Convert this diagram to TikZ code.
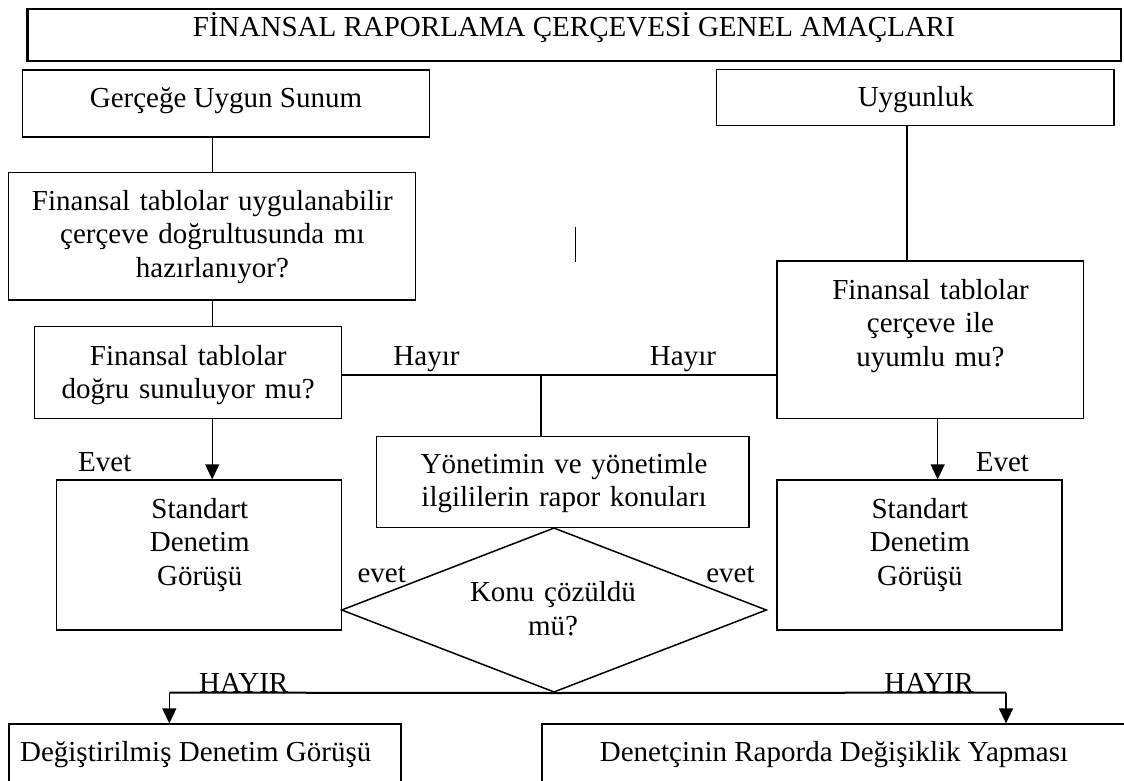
\documentclass[tikz,border=0pt]{standalone}
\usepackage{fontspec}
\setmainfont{Liberation Serif}
\usetikzlibrary{arrows.meta,shapes.geometric}

\begin{document}
\begin{tikzpicture}[x=1pt,y=-1pt,
  box/.style={draw,line width=1.3pt,rectangle,inner sep=0pt},
  txt/.style={font=\fontsize{29pt}{33.5pt}\selectfont,inner sep=0pt,anchor=base,align=center},
  link/.style={line width=1.3pt},
  arr/.style={line width=1.3pt,-{Triangle[length=15pt,width=14pt]}},
]
\useasboundingbox (0,0) rectangle (1124,781);
\clip (0,0) rectangle (1124,781);

% boxes
\node[box,line width=2.7pt,minimum width=1093.5pt,minimum height=52pt] (title) at (574.25,35) {};
\node[box,minimum width=406.7pt,minimum height=67pt] (ger) at (226.05,103.5) {};
\node[box,minimum width=397.2pt,minimum height=55.6pt] (uyg) at (915.4,97.5) {};
\node[box,minimum width=407.2pt,minimum height=127.7pt] (q1) at (212.2,236.15) {};
\node[box,minimum width=306.4pt,minimum height=91.6pt] (q2) at (188,372.5) {};
\node[box,minimum width=306.5pt,minimum height=157.3pt] (q3) at (930.25,339.65) {};
\node[box,minimum width=284.6pt,minimum height=150pt] (stdL) at (198.9,555) {};
\node[box,minimum width=285pt,minimum height=150pt] (stdR) at (919.5,555) {};
\node[box,minimum width=372.7pt,minimum height=91pt] (yon) at (562.65,482.2) {};
\node[draw,line width=1.5pt,diamond,inner sep=0pt,minimum width=425.2pt,minimum height=164.5pt] (dia) at (554,610) {};
\node[box,line width=1.8pt,minimum width=392.1pt,minimum height=95.7pt] (degis) at (204.65,772.15) {};
\node[box,line width=1.8pt,minimum width=598.2pt,minimum height=95.7pt] (denet) at (840.9,772.15) {};

% box texts
\node[txt] (titleT) at (574,37) {FİNANSAL RAPORLAMA ÇERÇEVESİ GENEL AMAÇLARI};
\node[txt] (gerT) at (226,108) {Gerçeğe Uygun Sunum};
\node[txt] (uygT) at (915.8,107) {Uygunluk};
\node[txt,text width=400pt] (q1T) at (212.4,210) {Finansal tablolar uygulanabilir\\çerçeve doğrultusunda mı\\hazırlanıyor?};
\node[txt,text width=300pt] (q2T) at (188.2,365) {Finansal tablolar\\doğru sunuluyor mu?};
\node[txt,text width=300pt] (q3T) at (930.5,299) {Finansal tablolar\\çerçeve ile\\uyumlu mu?};
\node[txt,text width=280pt] (stdLT) at (199.8,518.3) {Standart\\Denetim\\Görüşü};
\node[txt,text width=280pt] (stdRT) at (919.9,518.3) {Standart\\Denetim\\Görüşü};
\node[txt,text width=370pt] (yonT) at (564,473.3) {Yönetimin ve yönetimle\\ilgililerin rapor konuları};
\node[txt,text width=250pt] (diaT) at (553,601.7) {Konu çözüldü\\mü?};
\node[txt] (degT) at (195.7,761.7) {Değiştirilmiş Denetim Görüşü};
\node[txt] (denT) at (834,761.7) {Denetçinin Raporda Değişiklik Yapması};

% branch labels
\node[txt] (hayirL) at (426.5,365) {Hayır};
\node[txt] (hayirR) at (683,365) {Hayır};
\node[txt] (evetL) at (104.8,471.7) {Evet};
\node[txt] (evetR) at (1002.4,471.7) {Evet};
\node[txt] (evetl) at (381.7,582.7) {evet};
\node[txt] (evetr) at (730.5,582.7) {evet};
\node[txt] (hayirBL) at (243.7,692) {HAYIR};
\node[txt] (hayirBR) at (929,692) {HAYIR};

% connectors
\draw[link] (q1.north) -- (q1.north |- ger.south);
\draw[link] (q1.south) -- (q1.south |- q2.north);
\draw[arr] (q2.south -| q1.south) -- (stdL.north -| q1.south);

\coordinate (uygOut) at ([xshift=-8.4pt]uyg.south);
\draw[link] (uygOut) -- (uygOut |- q3.north);
\coordinate (q3Out) at ([xshift=7.4pt]q3.south);
\draw[arr] (q3Out) -- (q3Out |- stdR.north);

\coordinate (q2Out) at ([yshift=-2.5pt]q2.east);
\draw[link] (q2Out) -- (q2Out -| q3.west);
\coordinate (jn) at (541,375);
\draw[link] (jn) -- (jn |- yon.north);

% short stroke in the middle
\coordinate (mA) at (575.6,227);
\coordinate (mB) at (575.6,262);
\draw[link] (mA) -- (mB);

% HAYIR branches
\coordinate (hl) at (169.3,692.6);
\coordinate (hr) at (1006,692.6);
\draw[line width=2pt] (dia.south) -- (hl);
\draw[line width=2pt] (dia.south) -- (hr);
\draw[arr] (hl) -- (hl |- degis.north);
\draw[arr] (hr) -- (hr |- denet.north);
\end{tikzpicture}
\end{document}
